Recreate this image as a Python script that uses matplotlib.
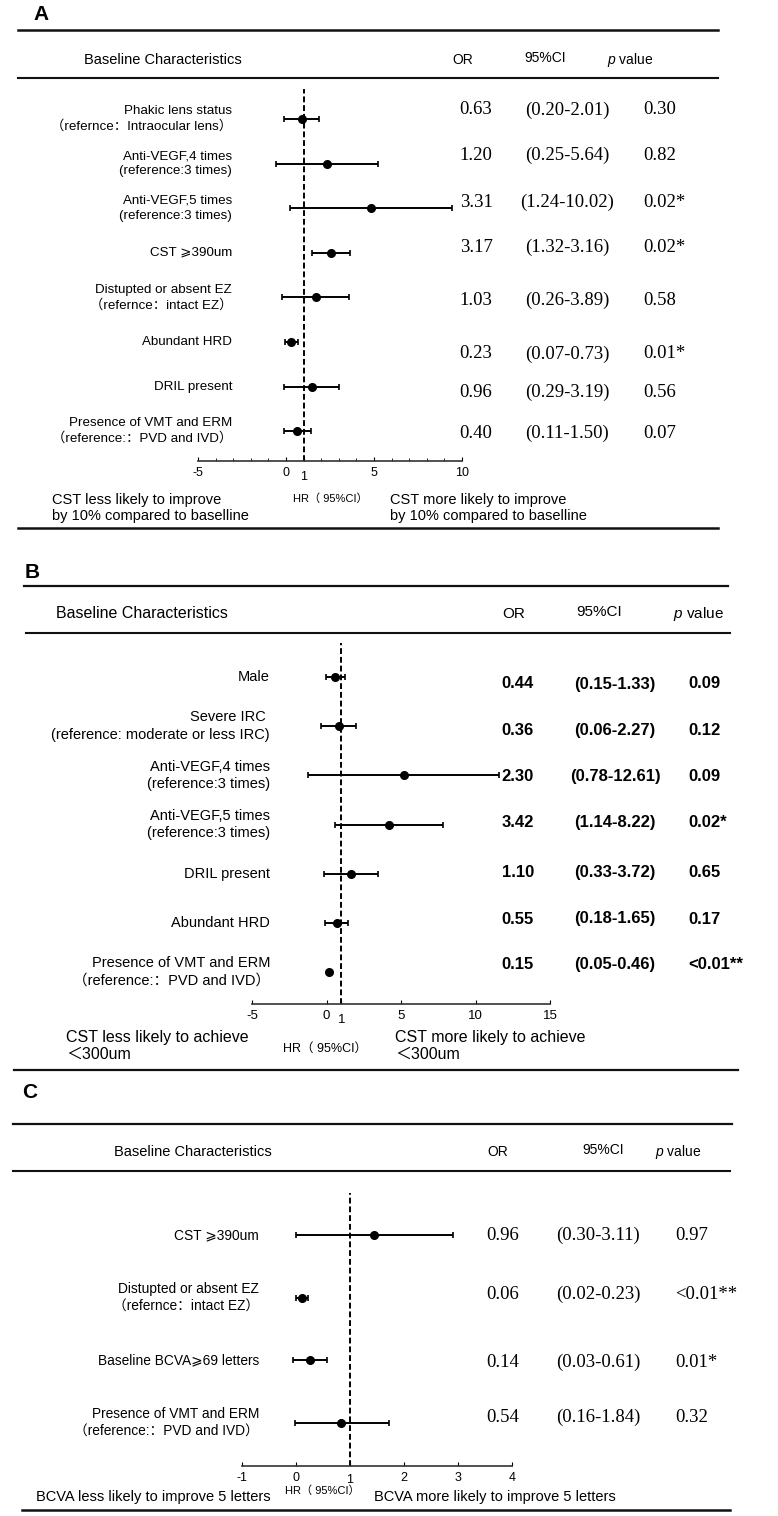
import numpy as np
import matplotlib
matplotlib.use('Agg')
import matplotlib.pyplot as plt
from matplotlib import transforms
from matplotlib.lines import Line2D
from matplotlib.ticker import MultipleLocator

plt.rcParams['font.family'] = ['Liberation Sans', 'Noto Sans CJK SC', 'DejaVu Sans']
plt.rcParams['mathtext.fontset'] = 'custom'
plt.rcParams['mathtext.it'] = 'Liberation Sans:italic'
plt.rcParams['mathtext.rm'] = 'Liberation Sans'

# ---------------- data ----------------
# panel A : CST improve by 10%
A_labels = ['Phakic lens status\n（refernce：Intraocular lens）',
            'Anti-VEGF,4 times\n(reference:3 times)',
            'Anti-VEGF,5 times\n(reference:3 times)',
            'CST ⩾390um',
            'Distupted or absent EZ\n（refernce：intact EZ）',
            'Abundant HRD',
            'DRIL present',
            'Presence of VMT and ERM\n（reference:：PVD and IVD）']
A_est = [0.91, 2.35, 4.84, 2.54, 1.70, 0.28, 1.46, 0.61]
A_lo = [-0.11, -0.57, 0.23, 1.46, -0.24, -0.06, -0.11, -0.13]
A_hi = [1.88, 5.24, 9.45, 3.63, 3.60, 0.68, 3.00, 1.40]
A_or = ['0.63', '1.20', '3.31', '3.17', '1.03', '0.23', '0.96', '0.40']
A_ci = ['(0.20-2.01)', '(0.25-5.64)', '(1.24-10.02)', '(1.32-3.16)',
        '(0.26-3.89)', '(0.07-0.73)', '(0.29-3.19)', '(0.11-1.50)']
A_p = ['0.30', '0.82', '0.02*', '0.02*', '0.58', '0.01*', '0.56', '0.07']
A_ticks = [-5, 0, 1, 5, 10]

# panel B : CST < 300um
B_labels = ['Male',
            'Severe IRC \n(reference: moderate or less IRC)',
            'Anti-VEGF,4 times\n(reference:3 times)',
            'Anti-VEGF,5 times\n(reference:3 times)',
            'DRIL present',
            'Abundant HRD',
            'Presence of VMT and ERM\n（reference:：PVD and IVD）']
B_est = [0.57, 0.84, 5.20, 4.19, 1.64, 0.70, 0.17]
B_lo = [-0.03, -0.37, -1.24, 0.57, -0.17, -0.10, 0.10]
B_hi = [1.24, 1.98, 11.58, 7.82, 3.46, 1.44, 0.25]
B_or = ['0.44', '0.36', '2.30', '3.42', '1.10', '0.55', '0.15']
B_ci = ['(0.15-1.33)', '(0.06-2.27)', '(0.78-12.61)', '(1.14-8.22)',
        '(0.33-3.72)', '(0.18-1.65)', '(0.05-0.46)']
B_p = ['0.09', '0.12', '0.09', '0.02*', '0.65', '0.17', '<0.01**']
B_ticks = [-5, 0, 1, 5, 10, 15]

# panel C : BCVA improve 5 letters
C_labels = ['CST ⩾390um',
            'Distupted or absent EZ\n（refernce：intact EZ）',
            'Baseline BCVA⩾69 letters',
            'Presence of VMT and ERM\n（reference:：PVD and IVD）']
C_est = [1.44, 0.11, 0.26, 0.83]
C_lo = [0.00, 0.00, -0.06, -0.02]
C_hi = [2.91, 0.22, 0.57, 1.72]
C_or = ['0.96', '0.06', '0.14', '0.54']
C_ci = ['(0.30-3.11)', '(0.02-0.23)', '(0.03-0.61)', '(0.16-1.84)']
C_p = ['0.97', '<0.01**', '0.01*', '0.32']
C_ticks = [-1, 0, 1, 2, 3, 4]

W, H, DPI = 778, 1516, 100
fig = plt.figure(figsize=(W / DPI, H / DPI), dpi=DPI)


def ftxt(x, y, s, **kw):
    fig.text(x / W, 1 - y / H, s, **kw)


def hline(y, x0, x1, lw=1.5):
    fig.add_artist(Line2D([x0 / W, x1 / W], [1 - y / H, 1 - y / H],
                          transform=fig.transFigure, color='#111111', lw=lw))


def panel(lay, labels, est, lo, hi, or_t, ci_t, p_t, ticks):
    n = len(labels)
    l, r, t, b = lay['ax']
    ax = fig.add_axes([l / W, 1 - b / H, (r - l) / W, (b - t) / H])
    y0, dy = lay['rows']
    ax.set_xlim(lay['xlim'])
    ax.set_ylim((b - y0) / dy, (t - y0) / dy)
    rows = np.arange(n)
    est = np.array(est)
    ax.errorbar(est, rows, xerr=[est - np.array(lo), np.array(hi) - est],
                fmt='o', color='black', ms=5.5, capsize=2.5,
                elinewidth=1.4, capthick=1.2, clip_on=False, zorder=3)
    ax.axvline(1, color='black', ls=(0, (3, 1.5)), lw=1.4, zorder=2)
    for s in ['left', 'top', 'right']:
        ax.spines[s].set_visible(False)
    ax.spines['bottom'].set_linewidth(1.2)
    ax.spines['bottom'].set_color('#333333')
    ax.set_yticks([])
    ax.set_xticks(ticks)
    ax.set_xticklabels([str(v) for v in ticks], fontsize=lay['tickfs'])
    ax.tick_params(axis='x', which='major', direction='in', length=3, pad=4)
    if lay.get('minor'):
        ax.xaxis.set_minor_locator(MultipleLocator(1))
        ax.tick_params(axis='x', which='minor', direction='in', length=2)
    ax.xaxis.get_major_ticks()[ticks.index(1)].set_pad(lay['pad1'])

    base = transforms.blended_transform_factory(fig.transFigure, ax.transData)
    for i in range(n):
        ax.text(lay['lab_x'] / W, i, labels[i], transform=base, ha='right',
                va='center', multialignment='right', fontsize=lay['labfs'],
                linespacing=1.32)
        tr = base + transforms.ScaledTranslation(0, -lay['toff'][i] / DPI,
                                                 fig.dpi_scale_trans)
        kw = dict(transform=tr, va='center', fontsize=lay['numfs'],
                  family=lay['numfam'], fontweight=lay['numw'])
        ax.text(lay['or_x'] / W, i, or_t[i], ha='center', **kw)
        ax.text(lay['ci_x'] / W, i, ci_t[i], ha='center', **kw)
        ax.text(lay['p_x'] / W, i, p_t[i], ha='left', **kw)

    # header and rules
    ftxt(lay['letter'][0], lay['letter'][1], lay['name'], fontsize=15,
         fontweight='bold', va='center', ha='left')
    for y, x0, x1, lw in lay['lines']:
        hline(y, x0, x1, lw)
    hy = lay['head_y']
    ftxt(lay['head_bc'], hy, 'Baseline Characteristics', fontsize=lay['headfs'],
         ha='center', va='center')
    ftxt(lay['head_or'], hy, 'OR', fontsize=lay['headfs'] - 0.5, ha='center', va='center')
    ftxt(lay['head_ci'], hy - 2, '95%CI', fontsize=lay['headfs'] - 0.5, ha='center', va='center')
    ftxt(lay['head_p'], hy, '$p$ value', fontsize=lay['headfs'] - 0.5, ha='center', va='center')

    # bottom captions
    bx0, bx1, by = lay['bottom']
    ftxt(bx0, by, lay['cap_l'], fontsize=lay['capfs'], ha='left', va='center',
         linespacing=1.15)
    ftxt(bx1, by, lay['cap_r'], fontsize=lay['capfs'], ha='left', va='center',
         linespacing=1.15)
    ftxt(lay['hr'][0], lay['hr'][1], 'HR（ 95%CI）', fontsize=lay['hrfs'],
         ha='center', va='center')
    return ax


lay_A = dict(name='A', letter=(33, 15), ax=(198, 462, 89, 461), rows=(119, 44.6),
             xlim=(-5, 10), minor=True, tickfs=9, pad1=7, lab_x=232, labfs=9.6,
             or_x=476, ci_x=567, p_x=643, numfs=13.5, numfam='Liberation Serif',
             numw='normal', toff=[-9, -8, -6, -5, 3, 12, 6, 2],
             lines=[(30, 18, 718, 1.8), (78, 18, 718, 1.5), (528, 18, 718, 1.8)],
             head_y=60, head_bc=163, head_or=463, head_ci=545, head_p=630, headfs=10.5,
             bottom=(52, 390, 508), capfs=10.5, hr=(330, 499), hrfs=8,
             cap_l='CST less likely to improve\nby 10% compared to baselline',
             cap_r='CST more likely to improve\nby 10% compared to baselline')

lay_B = dict(name='B', letter=(25, 572), ax=(252, 550, 643, 1004), rows=(677, 49.2),
             xlim=(-5, 15), minor=False, tickfs=9.5, pad1=7, lab_x=270, labfs=10.5,
             or_x=518, ci_x=615, p_x=688, numfs=12, numfam='Liberation Sans',
             numw='bold', toff=[7, 4, 1, -2, -1, -4, -8],
             lines=[(586, 24, 728, 1.6), (633, 26, 730, 1.5), (1070, 14, 738, 1.6)],
             head_y=614, head_bc=142, head_or=514, head_ci=599, head_p=698, headfs=11.5,
             bottom=(66, 395, 1046), capfs=11.5, hr=(325, 1049), hrfs=9,
             cap_l='CST less likely to achieve\n＜300um',
             cap_r='CST more likely to achieve\n＜300um')

lay_C = dict(name='C', letter=(22, 1093), ax=(242, 512, 1193, 1466), rows=(1235, 62.7),
             xlim=(-1, 4), minor=False, tickfs=9, pad1=5.5, lab_x=259, labfs=9.9,
             or_x=503, ci_x=598, p_x=675, numfs=13.5, numfam='Liberation Serif',
             numw='normal', toff=[0, -3, 2, -6],
             lines=[(1124, 13, 732, 1.6), (1171, 13, 730, 1.5), (1510, 22, 730, 1.8)],
             head_y=1152, head_bc=193, head_or=498, head_ci=603, head_p=678, headfs=10.5,
             bottom=(36, 374, 1497), capfs=10.5, hr=(322, 1491), hrfs=8,
             cap_l='BCVA less likely to improve 5 letters',
             cap_r='BCVA more likely to improve 5 letters')

panel(lay_A, A_labels, A_est, A_lo, A_hi, A_or, A_ci, A_p, A_ticks)
panel(lay_B, B_labels, B_est, B_lo, B_hi, B_or, B_ci, B_p, B_ticks)
panel(lay_C, C_labels, C_est, C_lo, C_hi, C_or, C_ci, C_p, C_ticks)

fig.savefig('out.png', dpi=DPI)
